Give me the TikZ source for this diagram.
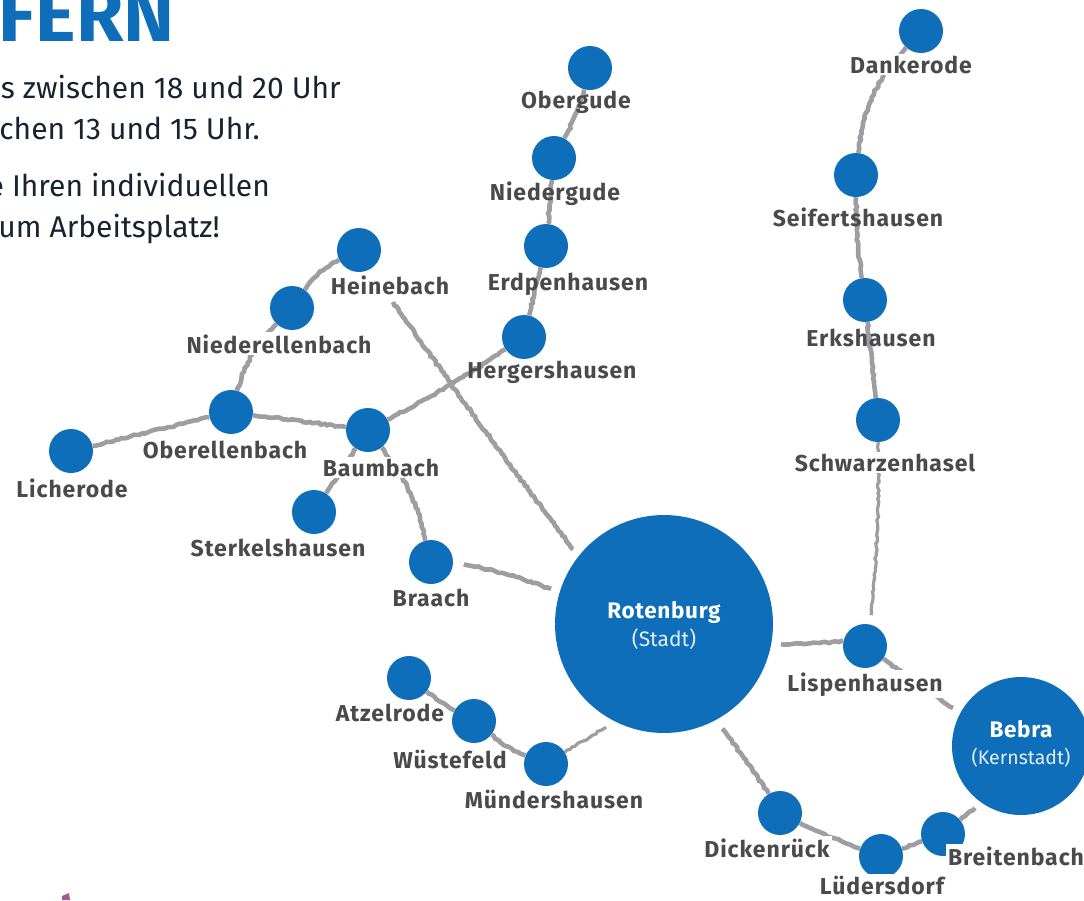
\documentclass[tikz,border=0pt]{standalone}
\usepackage{fontspec}
\setmainfont{Fira Sans}
\newfontfamily\labfont[LetterSpace=4]{Fira Sans}
\newfontfamily\hubfont[LetterSpace=3]{Fira Sans}
\usetikzlibrary{decorations.pathmorphing}
\definecolor{bl}{HTML}{0F6EB9}
\definecolor{lg}{HTML}{9E9EA2}
\definecolor{lt}{HTML}{4A4A4C}
\definecolor{tx}{HTML}{17232F}
\definecolor{pu}{HTML}{A8559F}
\tikzset{
 stop/.style={circle,fill=bl,minimum size=44pt,inner sep=0pt},
 hub/.style={circle,fill=bl,text=white,align=center,inner sep=0pt},
 link/.style={draw=lg,line width=4.6pt,decorate,decoration={random steps,segment length=3pt,amplitude=0.9pt}},
 thinlink/.style={link,line width=3.2pt},
 lab/.style={font=\labfont\fontsize{23}{23}\selectfont\bfseries,text=lt,inner sep=0pt,anchor=base,xshift=1pt,yshift=-1pt},
 labw/.style={lab,fill=white,inner xsep=2pt,inner ysep=2pt},
 para/.style={font=\fontsize{30}{30}\selectfont,text=tx,anchor=base east,inner sep=0pt},
 hubname/.style={font=\hubfont\fontsize{22.5}{23}\selectfont\bfseries,text=white,anchor=base,inner sep=0pt},
 hubsub/.style={text=white!88!bl,anchor=base,inner sep=0pt},
}
\begin{document}
\begin{tikzpicture}[x=1pt,y=-1pt]
\useasboundingbox (0,0) rectangle (1084,900);
\clip (0,0) rectangle (1084,900);
% heading and text
\node[font=\fontsize{77}{77}\selectfont\bfseries,text=bl,anchor=base east,inner sep=0pt] (title) at (175,41) {FERN};
\node[para] (p1) at (341,98) {s zwischen 18 und 20 Uhr};
\node[para] (p2) at (260,139) {chen 13 und 15 Uhr.};
\node[para] (p3) at (270,196) {e Ihren individuellen};
\node[para] (p4) at (220,237) {um Arbeitsplatz!};
\fill[pu] (62,896) -- (69,893) -- (70,900) -- (62,900) -- cycle;
% stops
\node[hub,minimum size=218pt] (rot) at (664,624) {};
\node[hub,minimum size=138pt] (beb) at (1021,746) {};
\foreach \n/\x/\y in {dan/921/31,sei/856/175,erk/865/300,sch/878/420,lis/865/646,
 dic/780/813,lue/881/856,bre/943/834,mue/546/764,wue/474/721,atz/409/678,bra/431/562,
 ste/314/512,bau/368/430,obe/231/412,lic/71/451,nie/292/308,hei/359/250,her/524/337,
 erd/546/246,ngu/554/158,ogu/590/68}
  \node[stop] (\n) at (\x,\y) {};
% free ends beside the two large circles
\coordinate (rotHei) at (573,549);
\coordinate (heiFree) at (393,302);
\coordinate (rotBra) at (551,589);
\coordinate (braFree) at (464,564);
\coordinate (rotLis) at (781,644);
\coordinate (lisW) at (843,641);
\coordinate (rotMue) at (606,727);
\coordinate (rotDic) at (722,729);
\coordinate (bebLis) at (953,708);
\coordinate (bebBre) at (975,808);
\coordinate (lisN) at (871,615);
% links
\draw[link] (ogu) to[bend left=6] (ngu);
\draw[link] (ngu) -- (erd);
\draw[link] (erd) -- (her);
\draw[link] (her) to[bend left=3] (bau);
\draw[link] (bau) -- (ste);
\draw[link] (bau) to[bend left=12] (bra);
\draw[link] (braFree) to[bend left=4] (rotBra);
\draw[link] (heiFree) to[bend right=1] (rotHei);
\draw[link] (obe) -- (bau);
\draw[link] (lic) -- (obe);
\draw[link] (obe) to[bend left=14] (nie);
\draw[link] (nie) to[bend left=14] (hei);
\draw[link] (atz) to[bend right=4] (wue);
\draw[link] (wue) to[bend right=8] (mue);
\draw[thinlink] (mue) -- (rotMue);
\draw[link] (rotDic) to[bend left=3] (dic);
\draw[link] (dic) to[bend right=3] (lue);
\draw[link] (lue) -- (bre);
\draw[link] (bre) -- (bebBre);
\draw[link] (rotLis) to[bend right=3] (lisW);
\draw[link] (lis) -- (bebLis);
\draw[thinlink] (sch) to[bend left=3] (lisN);
\draw[link] (erk) -- (sch);
\draw[link] (sei) to[bend right=4] (erk);
\draw[link] (dan) to[bend right=18] (sei);
% hub texts
\node[hubname] (trot) at (664,618) {Rotenburg};
\node[hubsub,font=\fontsize{21}{21}\selectfont] (trs) at (664,646) {(Stadt)};
\node[hubname] (tbeb) at (1021,737) {Bebra};
\node[hubsub,font=\fontsize{19.5}{20}\selectfont] (tbk) at (1021,764) {(Kernstadt)};
% labels
\node[labw] (ldan) at (910,72) {Dankerode};
\node[lab] (lsei) at (857,225) {Seifertshausen};
\node[lab] (lerk) at (870,345) {Erkshausen};
\node[labw] (lsch) at (884,470) {Schwarzenhasel};
\node[labw] (llis) at (864,690) {Lispenhausen};
\node[labw] (ldic) at (766,856) {Dickenrück};
\node[labw] (llue) at (881,893) {Lüdersdorf};
\node[labw] (lbre) at (1015,864) {Breitenbach};
\node[labw] (lmue) at (553,807) {Mündershausen};
\node[lab] (lwue) at (449,767) {Wüstefeld};
\node[lab] (latz) at (389,720) {Atzelrode};
\node[labw] (lbra) at (430,605) {Braach};
\node[labw] (lste) at (277,555) {Sterkelshausen};
\node[labw] (lbau) at (380,475) {Baumbach};
\node[labw] (lobe) at (224,457) {Oberellenbach};
\node[labw] (llic) at (71,496) {Licherode};
\node[labw] (lnie) at (278,352) {Niederellenbach};
\node[labw] (lhei) at (389,293) {Heinebach};
\node[lab] (lher) at (551,377) {Hergershausen};
\node[lab] (lerd) at (567,289) {Erdpenhausen};
\node[lab] (lngu) at (554,199) {Niedergude};
\node[lab] (logu) at (575,107) {Obergude};
\end{tikzpicture}
\end{document}
